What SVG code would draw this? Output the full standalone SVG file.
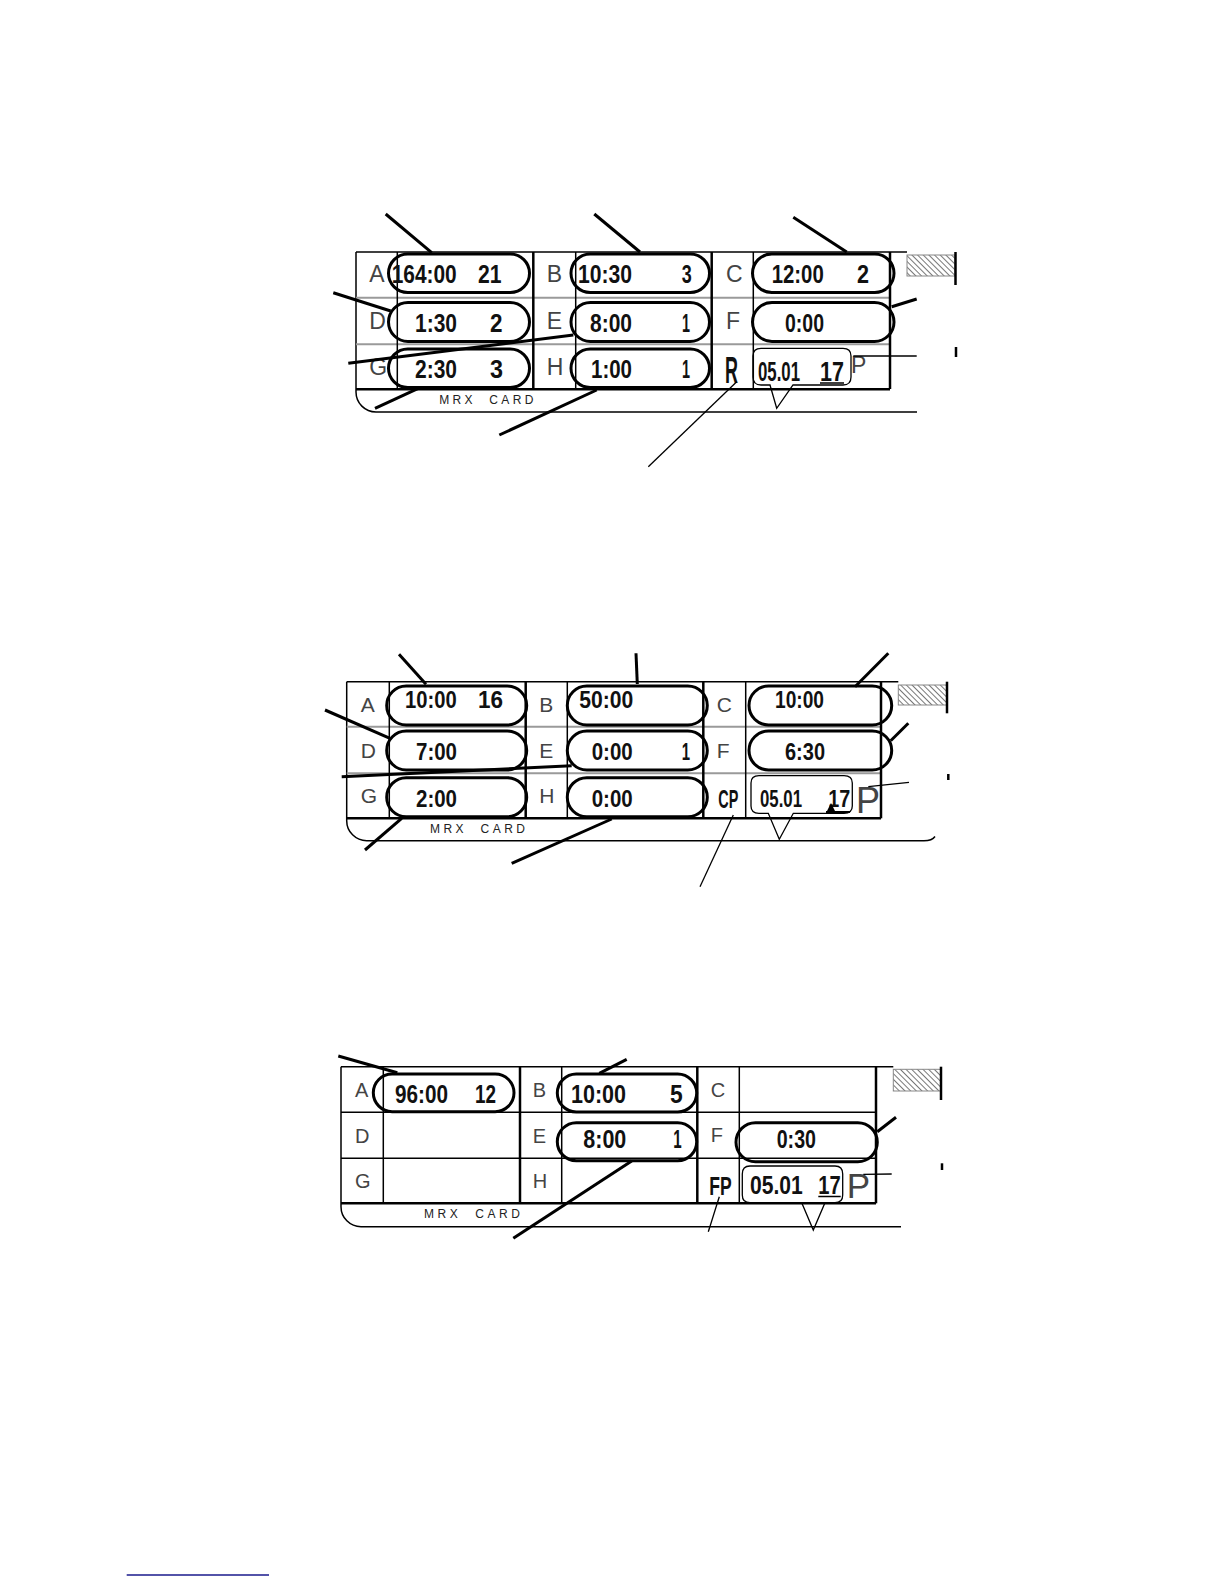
<svg xmlns="http://www.w3.org/2000/svg" width="1224" height="1584" viewBox="0 0 1224 1584">
<defs>
<pattern id="hatch" width="4" height="4" patternUnits="userSpaceOnUse" patternTransform="rotate(-45)">
<rect width="4" height="4" fill="#fff"/>
<line x1="0" y1="0" x2="0" y2="4" stroke="#555" stroke-width="1.6"/>
</pattern>
<style>
.lbl{font-family:"Liberation Sans",Arial,sans-serif;fill:#444;}
.num{font-family:"Liberation Sans",Arial,sans-serif;font-weight:bold;fill:#111;}
.mrx{font-family:"Liberation Sans",Arial,sans-serif;font-size:12px;fill:#222;}
.pill{fill:none;stroke:#000;stroke-width:3;}
.bal{fill:none;stroke:#000;stroke-width:1.3;}
.lead{stroke:#000;stroke-width:3;fill:none;}
.thin{stroke:#000;stroke-width:1.3;fill:none;}
.g{stroke:#000;stroke-width:1.5;fill:none;}
.gt{stroke:#000;stroke-width:2.5;fill:none;}
.gray{stroke:#9a9a9a;stroke-width:2;}
.hat{fill:url(#hatch);stroke:#888;stroke-width:1;}
</style>
</defs>
<rect width="1224" height="1584" fill="#fff"/>

<!-- ================= CARD 1 ================= -->
<g id="card1">
<g id="card1-frame">
<line class="g" x1="356" y1="252" x2="907" y2="252"/>
<path class="g" d="M356,252 V392 A20,20 0 0 0 376,412 H917"/>
<line class="gray" x1="356" y1="297.7" x2="890" y2="297.7"/>
<line class="gray" x1="356" y1="344.3" x2="890" y2="344.3"/>
<line class="g" x1="397.3" y1="252" x2="397.3" y2="389"/>
<line class="gt" x1="533.3" y1="252" x2="533.3" y2="389"/>
<line class="g" x1="575.7" y1="252" x2="575.7" y2="389"/>
<line class="gt" x1="711.7" y1="252" x2="711.7" y2="389"/>
<line class="g" x1="753.3" y1="252" x2="753.3" y2="389"/>
<line class="gt" x1="890" y1="252" x2="890" y2="389"/>
<line class="gt" x1="356" y1="389.3" x2="890" y2="389.3"/>
<rect class="hat" x="907" y="255" width="48" height="21"/>
<line class="gt" x1="955.5" y1="252" x2="955.5" y2="285"/>
<line class="gt" x1="956" y1="347" x2="956" y2="357"/>
<text class="mrx" x="439.3" y="404" textLength="94" lengthAdjust="spacing" xml:space="preserve">MRX  CARD</text>
</g>
<g id="card1-labels" class="lbl" font-size="23">
<text x="369.3" y="281.7">A</text><text x="369.3" y="329.3">D</text><text x="369.3" y="375">G</text>
<text x="546.7" y="281.7">B</text><text x="546.7" y="329.3">E</text><text x="546.7" y="375">H</text>
<text x="726" y="281.7">C</text><text x="726" y="329.3">F</text>
</g>
<g id="card1-A"><rect class="pill" x="388.5" y="254" width="141" height="38.5" rx="19.25"/>
<text class="num" font-size="26" x="391.7" y="283" textLength="65" lengthAdjust="spacingAndGlyphs">164:00</text>
<text class="num" font-size="26" x="478" y="283" textLength="23.5" lengthAdjust="spacingAndGlyphs">21</text></g>
<g id="card1-D"><rect class="pill" x="388.5" y="302.5" width="141" height="39" rx="19.5"/>
<text class="num" font-size="26" x="415" y="331.5" textLength="42" lengthAdjust="spacingAndGlyphs">1:30</text>
<text class="num" font-size="26" x="490" y="331.5" textLength="12.5" lengthAdjust="spacingAndGlyphs">2</text></g>
<g id="card1-G"><rect class="pill" x="388.5" y="349" width="141" height="38.5" rx="19.25"/>
<text class="num" font-size="26" x="415" y="378" textLength="42" lengthAdjust="spacingAndGlyphs">2:30</text>
<text class="num" font-size="26" x="490" y="378" textLength="13" lengthAdjust="spacingAndGlyphs">3</text></g>
<g id="card1-B"><rect class="pill" x="571" y="254" width="138.5" height="38.5" rx="19.25"/>
<text class="num" font-size="26" x="578" y="283" textLength="54" lengthAdjust="spacingAndGlyphs">10:30</text>
<text class="num" font-size="26" x="681.7" y="283" textLength="10" lengthAdjust="spacingAndGlyphs">3</text></g>
<g id="card1-E"><rect class="pill" x="571" y="302.5" width="138.5" height="39" rx="19.5"/>
<text class="num" font-size="26" x="590" y="331.5" textLength="42" lengthAdjust="spacingAndGlyphs">8:00</text>
<text class="num" font-size="26" x="682" y="331.5" textLength="8" lengthAdjust="spacingAndGlyphs">1</text></g>
<g id="card1-H"><rect class="pill" x="571" y="349" width="138.5" height="38.5" rx="19.25"/>
<text class="num" font-size="26" x="591" y="378" textLength="41" lengthAdjust="spacingAndGlyphs">1:00</text>
<text class="num" font-size="26" x="682" y="378" textLength="8" lengthAdjust="spacingAndGlyphs">1</text></g>
<g id="card1-C"><rect class="pill" x="752.5" y="254" width="141.5" height="38.5" rx="19.25"/>
<text class="num" font-size="26" x="771.7" y="283" textLength="52" lengthAdjust="spacingAndGlyphs">12:00</text>
<text class="num" font-size="26" x="857" y="283" textLength="12" lengthAdjust="spacingAndGlyphs">2</text></g>
<g id="card1-F"><rect class="pill" x="752.5" y="302.5" width="141.5" height="39" rx="19.5"/>
<text class="num" font-size="26" x="785" y="331.5" textLength="39" lengthAdjust="spacingAndGlyphs">0:00</text></g>
<g id="card1-R"><text class="num" font-size="36" x="725" y="382.7" textLength="13" lengthAdjust="spacingAndGlyphs">R</text></g>
<g id="card1-date"><path class="bal" d="M761,348.3 H843 Q851,348.3 851,356 V377 Q851,385 843,385 H793 L776.7,408.3 L770,385 H761 Q753,385 753,377 V356 Q753,348.3 761,348.3 Z"/>
<text class="num" font-size="28" transform="translate(758 381) scale(0.6 1)">05.01</text>
<text class="num" font-size="28" transform="translate(820 381) scale(0.77 1)">17</text>
<line stroke="#000" stroke-width="1.5" x1="820" y1="383" x2="844" y2="383"/>
<text class="lbl" font-size="23" x="851" y="373.3">P</text></g>
<g id="card1-connectors">
<line class="lead" x1="385.7" y1="214" x2="431.7" y2="252.7"/>
<line class="lead" x1="594.3" y1="214" x2="640" y2="252"/>
<line class="lead" x1="793.3" y1="217.3" x2="846.7" y2="252"/>
<line class="lead" x1="333.3" y1="292.7" x2="390.7" y2="311"/>
<line class="lead" stroke-width="2.5" x1="348.3" y1="363.3" x2="573.3" y2="335"/>
<line class="lead" x1="375" y1="408.3" x2="418.3" y2="388.3"/>
<line class="lead" x1="499.3" y1="435" x2="596.7" y2="390"/>
<line class="lead" stroke-width="3.5" x1="891.7" y1="306.7" x2="916.7" y2="299"/>
<line class="thin" x1="853.3" y1="356" x2="916.7" y2="356"/>
<line class="thin" x1="736.7" y1="381.7" x2="648.3" y2="466.7"/>
</g>
</g>

<!-- ================= CARD 2 ================= -->
<g id="card2">
<g id="card2-frame">
<line class="g" x1="346.7" y1="681.7" x2="898.3" y2="681.7"/>
<path class="g" d="M346.7,681.7 V820.7 A20,20 0 0 0 366.7,840.7 H924 Q932,840.7 935,836.5"/>
<line class="gray" x1="346.7" y1="726.7" x2="881" y2="726.7"/>
<line class="gray" x1="346.7" y1="773.3" x2="881" y2="773.3"/>
<line class="g" x1="389.3" y1="681.7" x2="389.3" y2="818.3"/>
<line class="gt" x1="525.7" y1="681.7" x2="525.7" y2="818.3"/>
<line class="g" x1="567.3" y1="681.7" x2="567.3" y2="818.3"/>
<line class="gt" x1="703.3" y1="681.7" x2="703.3" y2="818.3"/>
<line class="g" x1="745.7" y1="681.7" x2="745.7" y2="818.3"/>
<line class="gt" x1="881" y1="681.7" x2="881" y2="818.3"/>
<line class="gt" x1="346.7" y1="818.3" x2="881" y2="818.3"/>
<rect class="hat" x="898.3" y="685" width="48.4" height="20"/>
<line class="gt" x1="947" y1="681.7" x2="947" y2="713.3"/>
<line class="gt" x1="948.3" y1="774" x2="948.3" y2="780"/>
<text class="mrx" x="430" y="833.3" textLength="95" lengthAdjust="spacing" xml:space="preserve">MRX  CARD</text>
</g>
<g id="card2-labels" class="lbl" font-size="21">
<text x="360.7" y="711.7">A</text><text x="360.7" y="758.3">D</text><text x="360.7" y="803.3">G</text>
<text x="539.3" y="711.7">B</text><text x="539.3" y="758.3">E</text><text x="539.3" y="803.3">H</text>
<text x="716.7" y="711.7">C</text><text x="716.7" y="758.3">F</text>
</g>
<g id="card2-A"><rect class="pill" x="386.7" y="686" width="140" height="39" rx="19.5"/>
<text class="num" font-size="24" x="405" y="708.3" textLength="51.7" lengthAdjust="spacingAndGlyphs">10:00</text>
<text class="num" font-size="24" x="478" y="708.3" textLength="25" lengthAdjust="spacingAndGlyphs">16</text></g>
<g id="card2-D"><rect class="pill" x="386.7" y="731" width="140" height="39" rx="19.5"/>
<text class="num" font-size="24" x="416" y="760" textLength="41" lengthAdjust="spacingAndGlyphs">7:00</text></g>
<g id="card2-G"><rect class="pill" x="386.7" y="777.7" width="140" height="39" rx="19.5"/>
<text class="num" font-size="24" x="416" y="806.7" textLength="41" lengthAdjust="spacingAndGlyphs">2:00</text></g>
<g id="card2-B"><rect class="pill" x="567.3" y="686" width="140" height="39" rx="19.5"/>
<text class="num" font-size="24" x="579.3" y="708.3" textLength="54" lengthAdjust="spacingAndGlyphs">50:00</text></g>
<g id="card2-E"><rect class="pill" x="567.3" y="731" width="140" height="39" rx="19.5"/>
<text class="num" font-size="24" x="591.7" y="760" textLength="41" lengthAdjust="spacingAndGlyphs">0:00</text>
<text class="num" font-size="24" x="681.7" y="760" textLength="8.3" lengthAdjust="spacingAndGlyphs">1</text></g>
<g id="card2-H"><rect class="pill" x="567.3" y="777.7" width="140" height="39" rx="19.5"/>
<text class="num" font-size="24" x="591.7" y="806.7" textLength="41" lengthAdjust="spacingAndGlyphs">0:00</text></g>
<g id="card2-C"><rect class="pill" x="749" y="686" width="142.7" height="39" rx="19.5"/>
<text class="num" font-size="24" x="775" y="708.3" textLength="49" lengthAdjust="spacingAndGlyphs">10:00</text></g>
<g id="card2-F"><rect class="pill" x="749" y="731" width="142.7" height="39" rx="19.5"/>
<text class="num" font-size="24" x="785" y="760" textLength="40" lengthAdjust="spacingAndGlyphs">6:30</text></g>
<g id="card2-CP"><text class="num" font-size="25" x="718.3" y="808.3" textLength="20" lengthAdjust="spacingAndGlyphs">CP</text></g>
<g id="card2-date"><path class="bal" d="M759,775.7 H844 Q852.3,775.7 852.3,783 V806 Q852.3,813.3 844,813.3 H793.3 L779.3,839.3 L768.3,813.3 H759 Q751,813.3 751,806 V783 Q751,775.7 759,775.7 Z"/>
<text class="num" font-size="24" x="760" y="806.7" textLength="42" lengthAdjust="spacingAndGlyphs">05.01</text>
<text class="num" font-size="24" x="828.3" y="806.7" textLength="22" lengthAdjust="spacingAndGlyphs">17</text>
<line stroke="#000" stroke-width="2" x1="826" y1="812" x2="850" y2="812"/>
<polygon points="826,813 831,803 836,813" fill="#000"/>
<text class="lbl" font-size="36" x="856" y="813.3">P</text></g>
<g id="card2-connectors">
<line class="lead" x1="399" y1="654.3" x2="426" y2="684.3"/>
<line class="lead" x1="636" y1="653.3" x2="637.3" y2="684"/>
<line class="lead" x1="888.3" y1="653.3" x2="855" y2="686.7"/>
<line class="lead" x1="325" y1="710" x2="390" y2="738.3"/>
<line class="lead" stroke-width="2.5" x1="341.7" y1="776.7" x2="571.7" y2="765.7"/>
<line class="lead" x1="908.3" y1="723.3" x2="890.7" y2="740.7"/>
<line class="lead" x1="365" y1="850" x2="401.7" y2="818.3"/>
<line class="lead" x1="511.7" y1="863.3" x2="611.7" y2="819"/>
<line class="thin" x1="868.3" y1="786.7" x2="909" y2="782.3"/>
<line class="thin" x1="733.3" y1="815" x2="700" y2="886.7"/>
</g>
</g>

<!-- ================= CARD 3 ================= -->
<g id="card3">
<g id="card3-frame">
<line class="g" x1="341" y1="1066.7" x2="893.3" y2="1066.7"/>
<path class="g" d="M341,1066.7 V1206.7 A20,20 0 0 0 361,1226.7 H901"/>
<line class="g" x1="341" y1="1112.3" x2="876" y2="1112.3"/>
<line class="g" x1="341" y1="1158.3" x2="876" y2="1158.3"/>
<line class="g" x1="383.3" y1="1066.7" x2="383.3" y2="1203.3"/>
<line class="gt" x1="520" y1="1066.7" x2="520" y2="1203.3"/>
<line class="g" x1="561.7" y1="1066.7" x2="561.7" y2="1203.3"/>
<line class="gt" x1="697.3" y1="1066.7" x2="697.3" y2="1203.3"/>
<line class="g" x1="739.3" y1="1066.7" x2="739.3" y2="1203.3"/>
<line class="gt" x1="876" y1="1066.7" x2="876" y2="1203.3"/>
<line class="gt" x1="341" y1="1203.3" x2="876" y2="1203.3"/>
<rect class="hat" x="893.3" y="1069.3" width="47.4" height="21.7"/>
<line class="gt" x1="941" y1="1066.7" x2="941" y2="1100"/>
<line class="gt" x1="942" y1="1163.3" x2="942" y2="1170"/>
<text class="mrx" x="424" y="1218.3" textLength="96" lengthAdjust="spacing" xml:space="preserve">MRX  CARD</text>
</g>
<g id="card3-labels" class="lbl" font-size="20">
<text x="355" y="1096.7">A</text><text x="355" y="1143.3">D</text><text x="355" y="1188.3">G</text>
<text x="532.7" y="1096.7">B</text><text x="532.7" y="1143.3">E</text><text x="532.7" y="1188.3">H</text>
<text x="710.7" y="1096.7">C</text><text x="710.7" y="1141.7">F</text>
</g>
<g id="card3-A"><rect class="pill" x="373.3" y="1074" width="140.7" height="37.7" rx="18.85"/>
<text class="num" font-size="25" x="395" y="1103.3" textLength="53" lengthAdjust="spacingAndGlyphs">96:00</text>
<text class="num" font-size="25" x="475" y="1103.3" textLength="21" lengthAdjust="spacingAndGlyphs">12</text></g>
<g id="card3-B"><rect class="pill" x="557.3" y="1074" width="139.4" height="38" rx="19"/>
<text class="num" font-size="25" x="571" y="1103.3" textLength="55" lengthAdjust="spacingAndGlyphs">10:00</text>
<text class="num" font-size="25" x="670" y="1103.3" textLength="12.7" lengthAdjust="spacingAndGlyphs">5</text></g>
<g id="card3-E"><rect class="pill" x="557.3" y="1122.7" width="139.4" height="38" rx="19"/>
<text class="num" font-size="25" x="583.3" y="1148.3" textLength="43" lengthAdjust="spacingAndGlyphs">8:00</text>
<text class="num" font-size="25" x="673.3" y="1148.3" textLength="8.4" lengthAdjust="spacingAndGlyphs">1</text></g>
<g id="card3-F"><rect class="pill" x="736" y="1122.7" width="141.3" height="39" rx="19.5"/>
<text class="num" font-size="25" x="776.7" y="1148.3" textLength="39.3" lengthAdjust="spacingAndGlyphs">0:30</text></g>
<g id="card3-FP"><text class="num" font-size="25" x="709.3" y="1195" textLength="22.4" lengthAdjust="spacingAndGlyphs">FP</text></g>
<g id="card3-date"><path class="bal" d="M750,1166 H835 Q842.7,1166 842.7,1174 V1195 Q842.7,1202.7 835,1202.7 H825 L813.3,1230 L801.7,1202.7 H750 Q742.3,1202.7 742.3,1195 V1174 Q742.3,1166 750,1166 Z"/>
<text class="num" font-size="25" x="750" y="1194.3" textLength="52.7" lengthAdjust="spacingAndGlyphs">05.01</text>
<text class="num" font-size="25" x="818.3" y="1194.3" textLength="22.4" lengthAdjust="spacingAndGlyphs">17</text>
<line stroke="#000" stroke-width="1.5" x1="818.3" y1="1196.5" x2="840.7" y2="1196.5"/>
<text class="lbl" font-size="35" x="846.7" y="1198.3">P</text></g>
<g id="card3-connectors">
<line class="lead" x1="338.3" y1="1056" x2="397.3" y2="1072.7"/>
<line class="lead" x1="626.7" y1="1059.3" x2="599.3" y2="1073.3"/>
<line class="lead" x1="513.3" y1="1238.3" x2="631.7" y2="1161"/>
<line class="lead" x1="896" y1="1117.3" x2="877.3" y2="1131.7"/>
<line class="thin" x1="863.3" y1="1174.3" x2="891.7" y2="1174"/>
<line class="thin" x1="719.3" y1="1196.7" x2="708.3" y2="1231.7"/>
</g>
</g>

<line id="footer-rule" x1="126.7" y1="1575" x2="269" y2="1575" stroke="#1a1a8c" stroke-width="1.5"/>
</svg>
